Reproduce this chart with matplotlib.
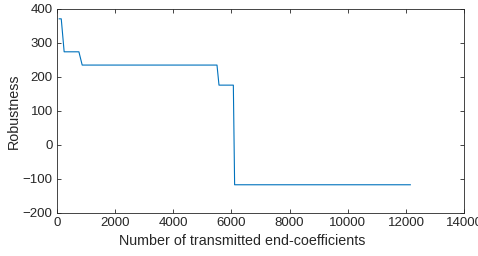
import matplotlib
matplotlib.use("Agg")
import matplotlib.pyplot as plt

x_vals = [80, 150, 250, 757, 870, 5504, 5573, 6066, 6110, 12150]
y_vals = [371, 371, 274, 274, 235, 235, 176, 176, -117, -117]
xticks = [0, 2000, 4000, 6000, 8000, 10000, 12000, 14000]
yticks = [-200, -100, 0, 100, 200, 300, 400]

plt.rcParams['font.family'] = ['Liberation Sans', 'DejaVu Sans']
fig = plt.figure(figsize=(4.78, 2.56), dpi=100)
ax = fig.add_axes([0.119, 0.168, 0.852, 0.797])
ax.plot(x_vals, y_vals, color='#0072BD', linewidth=0.8)
ax.set_xlim(0, 14000)
ax.set_ylim(-200, 400)
ax.set_xticks(xticks)
ax.set_yticks(yticks)
ax.tick_params(direction='in', length=3, width=0.6, labelsize=9.5, colors='#262626', top=True, right=True, labeltop=False, labelright=False, pad=3)
for s in ax.spines.values():
    s.set_linewidth(0.6)
    s.set_color('#262626')
ax.set_xlabel('Number of transmitted end-coefficients', fontsize=10.3, color='#262626')
ax.xaxis.set_label_coords(0.4545, -0.105, transform=ax.transAxes)
ax.set_ylabel('Robustness', fontsize=10.3, color='#262626', labelpad=1)
fig.savefig('out.png', dpi=100)
